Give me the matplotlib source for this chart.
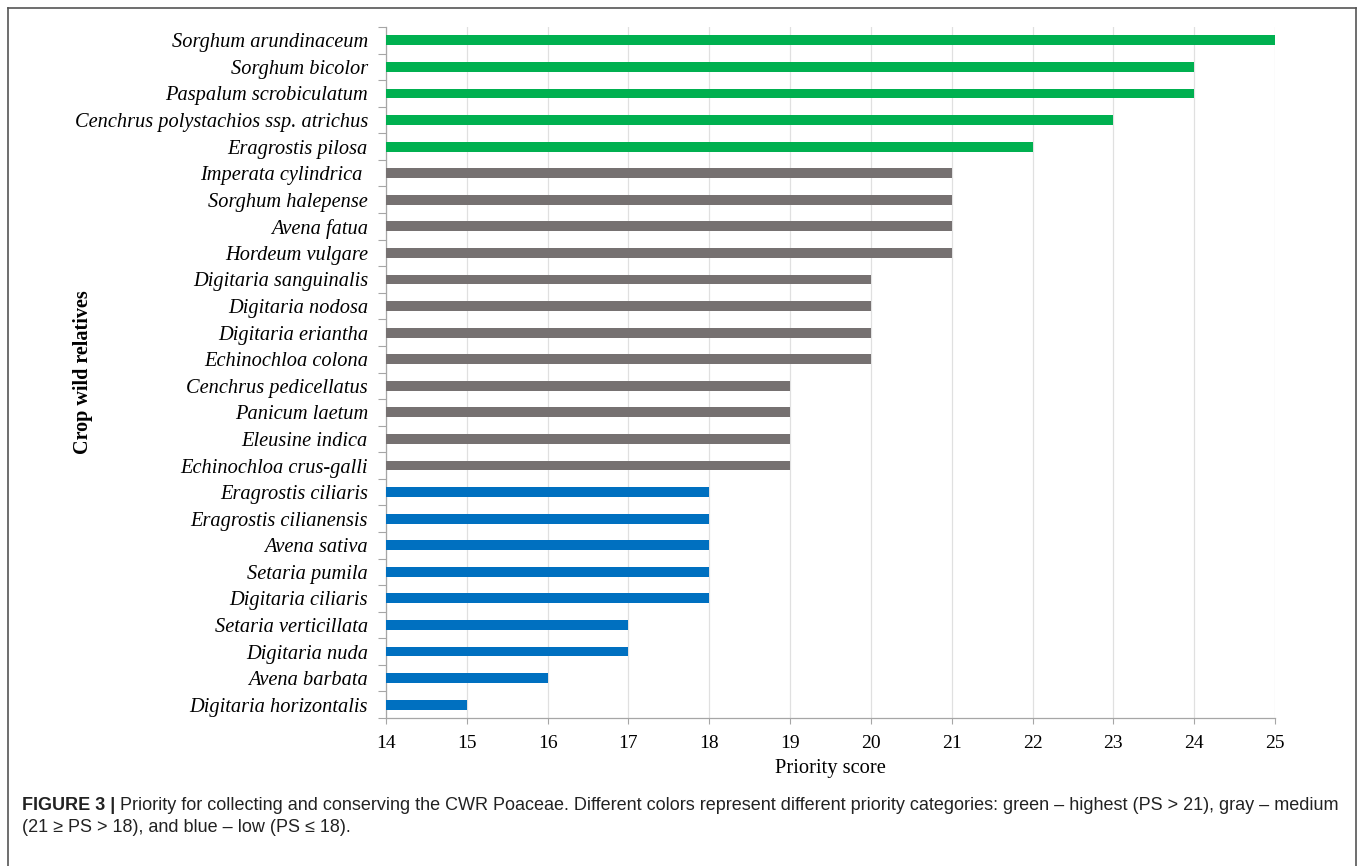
import matplotlib
matplotlib.use("Agg")
import matplotlib.pyplot as plt
from matplotlib.ticker import FixedLocator, NullFormatter

species = [
    "Sorghum arundinaceum", "Sorghum bicolor", "Paspalum scrobiculatum",
    "Cenchrus polystachios ssp. atrichus", "Eragrostis pilosa",
    "Imperata cylindrica ", "Sorghum halepense", "Avena fatua", "Hordeum vulgare",
    "Digitaria sanguinalis", "Digitaria nodosa", "Digitaria eriantha",
    "Echinochloa colona", "Cenchrus pedicellatus", "Panicum laetum",
    "Eleusine indica", "Echinochloa crus-galli", "Eragrostis ciliaris",
    "Eragrostis cilianensis", "Avena sativa", "Setaria pumila",
    "Digitaria ciliaris", "Setaria verticillata", "Digitaria nuda",
    "Avena barbata", "Digitaria horizontalis",
]
scores = [25, 24, 24, 23, 22, 21, 21, 21, 21, 20, 20, 20, 20,
          19, 19, 19, 19, 18, 18, 18, 18, 18, 17, 17, 16, 15]
x_ticks = [14, 15, 16, 17, 18, 19, 20, 21, 22, 23, 24, 25]

GREEN, GRAY, BLUE = "#00B050", "#767171", "#0070C0"
def cat_color(s):
    if s > 21:
        return GREEN
    if s > 18:
        return GRAY
    return BLUE
colors = [cat_color(s) for s in scores]

W, H = 1360, 866
fig = plt.figure(figsize=(W / 100, H / 100), dpi=100)
fig.patch.set_facecolor("white")

# outer frame (no bottom line)
for xs, ys in [([8 / W, 8 / W], [0, 1 - 8 / H]),
               ([1356 / W, 1356 / W], [0, 1 - 8 / H]),
               ([8 / W, 1356 / W], [1 - 8 / H, 1 - 8 / H])]:
    fig.add_artist(plt.Line2D(xs, ys, transform=fig.transFigure, color="#555555", lw=1.2))

left, right, top, bottom = 386, 1275, 27, 718
ax = fig.add_axes([left / W, 1 - bottom / H, (right - left) / W, (bottom - top) / H])

n = len(species)
ypos = list(range(n))
ax.barh(ypos, [s - x_ticks[0] for s in scores], left=x_ticks[0], height=0.37,
        color=colors, zorder=3)
ax.set_ylim(n - 0.5, -0.5)
ax.set_xlim(x_ticks[0], x_ticks[-1])

serif = ["Liberation Serif", "DejaVu Serif"]
ax.set_yticks(ypos)
ax.set_yticklabels(species, family=serif, style="italic", fontsize=14.7)
ax.tick_params(axis="y", which="major", length=0, pad=13)
ax.yaxis.set_minor_locator(FixedLocator([i - 0.5 for i in range(n + 1)]))
ax.yaxis.set_minor_formatter(NullFormatter())
ax.tick_params(axis="y", which="minor", length=6, width=0.8, color="#A6A6A6", direction="out")

ax.set_xticks(x_ticks)
ax.set_xticklabels([str(t) for t in x_ticks], family=serif, fontsize=14)
ax.tick_params(axis="x", length=4, width=0.8, color="#A6A6A6", pad=8.5)

ax.grid(axis="x", color="#E0E0E0", lw=0.9, zorder=0)
for sp in ["top", "right"]:
    ax.spines[sp].set_visible(False)
for sp in ["left", "bottom"]:
    ax.spines[sp].set_color("#A6A6A6")
    ax.spines[sp].set_linewidth(0.9)

ax.set_xlabel("Priority score", family=serif, fontsize=14.8, labelpad=4.5)
fig.text(83 / W, 1 - 372 / H, "Crop wild relatives", family=serif, fontweight="bold",
         fontsize=14.5, rotation=90, ha="center", va="center")

# caption
cap_font = ["Liberation Sans", "DejaVu Sans"]
cap_size = 13
cx, cy1, cy2 = 22 / W, 1 - 806 / H, 1 - 827 / H
t1 = fig.text(cx, cy1, "FIGURE 3 | ", family=cap_font, fontweight="bold", fontsize=cap_size,
              color="#222222", va="center")
fig.canvas.draw()
r = fig.canvas.get_renderer()
bb = t1.get_window_extent(renderer=r)
fig.text(bb.x1 / W, cy1,
         "Priority for collecting and conserving the CWR Poaceae. Different colors represent "
         "different priority categories: green \u2013 highest (PS > 21), gray \u2013 medium",
         family=cap_font, fontsize=cap_size, color="#222222", va="center")
fig.text(cx, cy2, "(21 \u2265 PS > 18), and blue \u2013 low (PS \u2264 18).",
         family=cap_font, fontsize=cap_size, color="#222222", va="center")

fig.savefig("out.png", dpi=100)
